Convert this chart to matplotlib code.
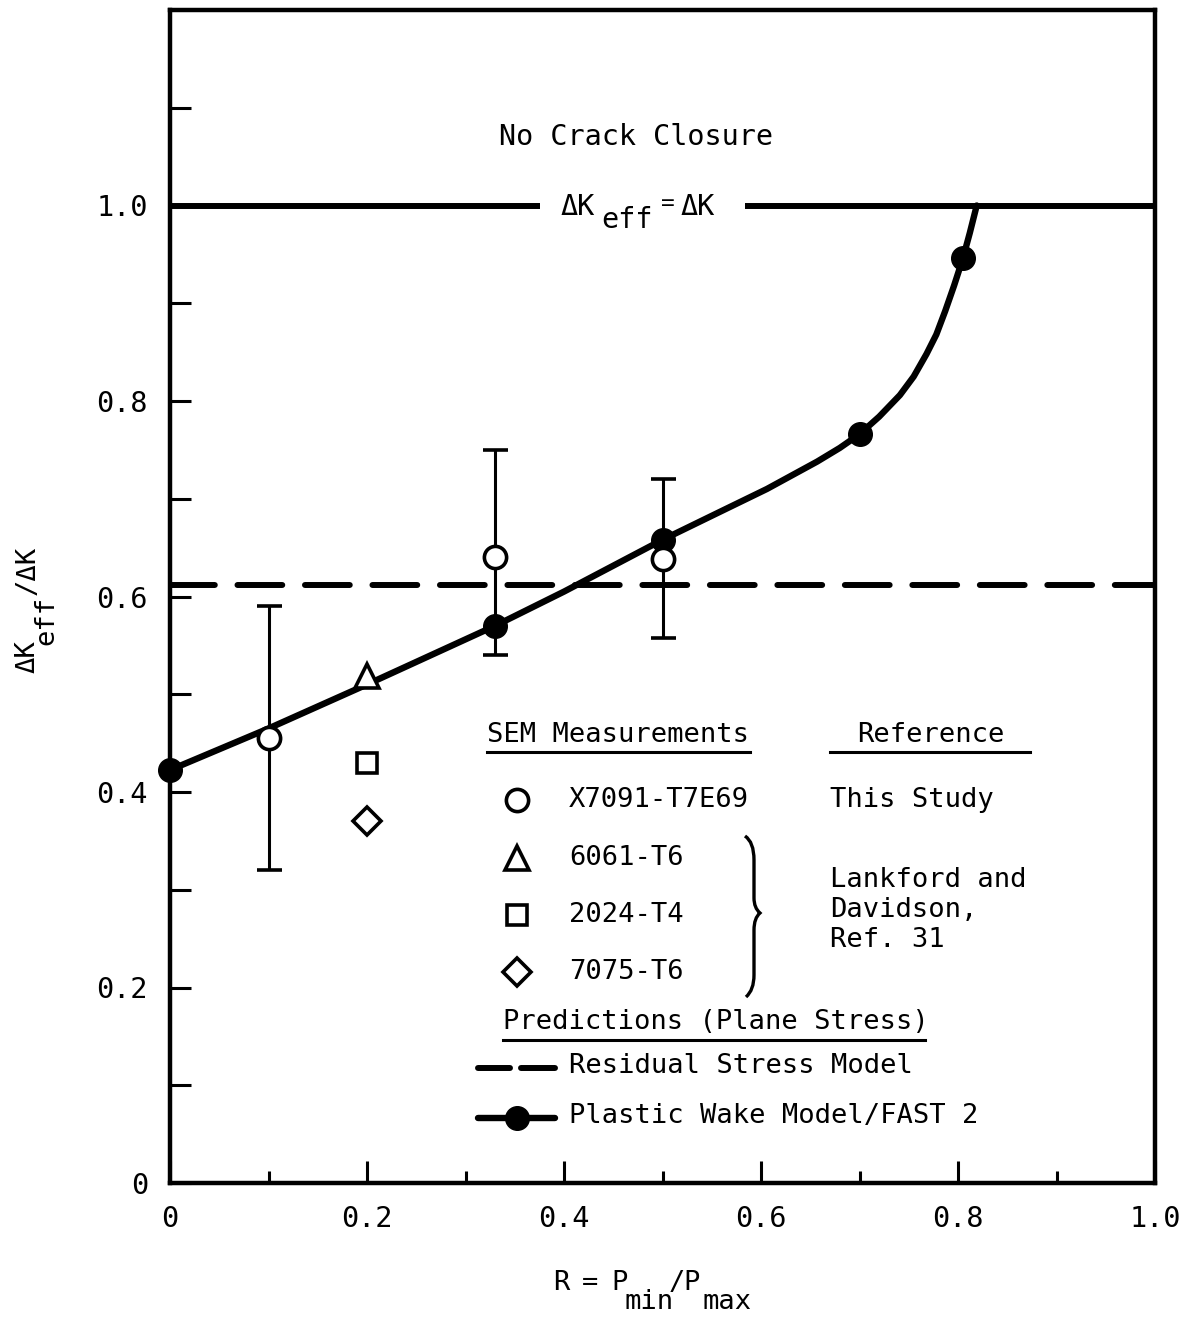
import matplotlib
matplotlib.use("Agg")
import matplotlib.pyplot as plt
from matplotlib.path import Path
from matplotlib.patches import PathPatch
from matplotlib.lines import Line2D

# ---------------- data ----------------
# This study, X7091-T7E69 (SEM measurements, with scatter bands)
x7091_R = [0.10, 0.33, 0.50]
x7091_ratio = [0.455, 0.640, 0.638]
x7091_lo = [0.320, 0.540, 0.558]
x7091_hi = [0.590, 0.750, 0.720]

# Lankford and Davidson, Ref. 31
lank_R = [0.20]
a6061_ratio = [0.519]
a2024_ratio = [0.430]
a7075_ratio = [0.370]

# Plastic Wake Model / FAST 2 (computed points)
fast_R = [0.0, 0.33, 0.50, 0.70, 0.805]
fast_ratio = [0.4225, 0.570, 0.658, 0.766, 0.946]

# Faired curve through the FAST 2 predictions
curve_R = [0.0, 0.10, 0.20, 0.33, 0.40, 0.50, 0.555, 0.606, 0.657, 0.68,
           0.70, 0.72, 0.741, 0.755, 0.768, 0.778, 0.787, 0.796, 0.805,
           0.812, 0.819]
curve_ratio = [0.4225, 0.465, 0.510, 0.570, 0.605, 0.658, 0.685, 0.710,
               0.738, 0.752, 0.766, 0.784, 0.806, 0.825, 0.848, 0.868,
               0.892, 0.918, 0.946, 0.972, 1.0]

# Residual stress model (plane stress)
residual_ratio = 0.612
# No crack closure line
no_closure = 1.0
no_closure_gap = (0.376, 0.584)

x_ticks = [0.0, 0.2, 0.4, 0.6, 0.8, 1.0]
x_ticklabels = ["0", "0.2", "0.4", "0.6", "0.8", "1.0"]
x_minor = [0.1, 0.3, 0.5, 0.7, 0.9]
y_ticks = [0.0, 0.2, 0.4, 0.6, 0.8, 1.0]
y_ticklabels = ["0", "0.2", "0.4", "0.6", "0.8", "1.0"]
y_minor = [0.1, 0.3, 0.5, 0.7, 0.9, 1.1]

# ---------------- style ----------------
FONT = "DejaVu Sans Mono"
plt.rcParams["font.family"] = [FONT, "DejaVu Sans"]
FS = 19.5

W, H = 1186, 1317
fig = plt.figure(figsize=(W / 100, H / 100), dpi=100)
L, R_, B, T = 170, 1155, 1183, 10
ax = fig.add_axes([L / W, 1 - B / H, (R_ - L) / W, (B - T) / H])
ax.set_xlim(0, 1.0)
ax.set_ylim(0, 1.2)


def A(px, py):
    """pixel position -> axes fraction"""
    return ((px - L) / (R_ - L), (B - py) / (B - T))


def F(px, py):
    """pixel position -> figure fraction"""
    return (px / W, 1 - py / H)


for s in ax.spines.values():
    s.set_linewidth(3.2)

ax.set_xticks(x_ticks)
ax.set_xticklabels(x_ticklabels)
ax.set_xticks(x_minor, minor=True)
ax.set_yticks(y_ticks)
ax.set_yticklabels(y_ticklabels)
ax.set_yticks(y_minor, minor=True)
ax.tick_params(axis="x", which="major", direction="in", length=16, width=2.2,
               pad=16, labelsize=FS + 1)
ax.tick_params(axis="x", which="minor", direction="in", length=9, width=2.2)
ax.tick_params(axis="y", which="both", direction="in", length=15, width=2.2,
               pad=16, labelsize=FS + 1)

# No crack closure line (with gap for label)
ax.plot([0.0, no_closure_gap[0]], [no_closure, no_closure], color="black",
        lw=4.3, solid_capstyle="butt")
ax.plot([no_closure_gap[1], 1.0], [no_closure, no_closure], color="black",
        lw=4.3, solid_capstyle="butt")

# residual stress model
ax.axhline(residual_ratio, color="black", lw=4.3, dashes=(7.5, 3.8),
           dash_capstyle="round")

# error bars
lower = [y - lo for y, lo in zip(x7091_ratio, x7091_lo)]
upper = [hi - y for y, hi in zip(x7091_ratio, x7091_hi)]
ax.errorbar(x7091_R, x7091_ratio, yerr=[lower, upper], fmt="none",
            ecolor="black", elinewidth=2.2, capsize=9, capthick=2.6, zorder=3)

# FAST 2 curve + points
ax.plot(curve_R, curve_ratio, color="black", lw=4.6, zorder=4,
        solid_capstyle="round", solid_joinstyle="round")
ax.plot(fast_R, fast_ratio, "o", color="black", ms=17, zorder=5,
        clip_on=False)

# measurements
ax.plot(x7091_R, x7091_ratio, "o", mfc="white", mec="black", mew=2.6,
        ms=16, zorder=6)
ax.plot(lank_R, a6061_ratio, "^", mfc="white", mec="black", mew=2.6,
        ms=17, zorder=6)
ax.plot(lank_R, a2024_ratio, "s", mfc="white", mec="black", mew=2.6,
        ms=14, zorder=6)
ax.plot(lank_R, a7075_ratio, "D", mfc="white", mec="black", mew=2.6,
        ms=14, zorder=6)

# ---------------- annotations ----------------
tr = ax.transAxes


def txt(px, py, s, size=FS, **kw):
    ax.text(*A(px, py), s, transform=tr, fontsize=size, va="center",
            ha=kw.pop("ha", "left"), **kw)


txt(636, 137, "No Crack Closure", ha="center", size=FS + 1)
txt(560, 207, "\u0394K", size=FS + 1)
txt(601, 220, "eff", size=FS + 1)
txt(661, 204, "=", size=FS - 3)
txt(680, 207, "\u0394K", size=FS + 1)

# ---------------- legend (hand-built) ----------------


def hline(px0, px1, py, lw=2.2, **kw):
    (x0, y0), (x1, y1) = A(px0, py), A(px1, py)
    ax.add_line(Line2D([x0, x1], [y0, y1], transform=tr, color="black",
                       lw=lw, **kw))


txt(487, 735, "SEM Measurements")
hline(487, 750, 752)
txt(857, 735, "Reference")
hline(830, 1030, 752)

items = [("o", 16, 800, "X7091-T7E69"), ("^", 17, 858, "6061-T6"),
         ("s", 14, 915, "2024-T4"), ("D", 14, 972, "7075-T6")]
for mk, ms, py, label in items:
    ax.plot(*A(517, py), mk, transform=tr, mfc="white", mec="black",
            mew=2.6, ms=ms, clip_on=False)
    txt(569, py, label)

txt(830, 800, "This Study")
ax.text(*A(830, 910), "Lankford and\nDavidson,\nRef. 31", transform=tr,
        fontsize=FS, ha="left", va="center", linespacing=1.2)

# brace
pts = [A(745, 836), A(754, 842), A(754, 860), A(754, 880), A(754, 898),
       A(754, 908), A(760, 913), A(754, 918), A(754, 930), A(754, 950),
       A(754, 975), A(754, 990), A(746, 997)]
codes = [Path.MOVETO, Path.CURVE3, Path.CURVE3, Path.LINETO, Path.LINETO,
         Path.CURVE3, Path.CURVE3, Path.CURVE3, Path.CURVE3, Path.LINETO,
         Path.LINETO, Path.CURVE3, Path.CURVE3]
ax.add_patch(PathPatch(Path(pts, codes), transform=tr, fill=False,
                       lw=2.4, ec="black", clip_on=False))

txt(503, 1022, "Predictions (Plane Stress)")
hline(503, 925, 1040)

# residual stress sample
hline(478, 510, 1068, lw=4.3, solid_capstyle="round")
hline(521, 555, 1068, lw=4.3, solid_capstyle="round")
txt(569, 1066, "Residual Stress Model")

# plastic wake sample
hline(478, 555, 1118, lw=4.6, solid_capstyle="round")
ax.plot(*A(517, 1118), "o", transform=tr, color="black", ms=17,
        clip_on=False)
txt(569, 1116, "Plastic Wake Model/FAST 2")


# axis labels (typewriter style with dropped subscripts)
def ftxt(px, py, s, rot=0, ha="left"):
    fig.text(*F(px, py), s, fontsize=FS, ha=ha, va="center", rotation=rot)


ftxt(553, 1283, "R")
ftxt(590, 1283, "=", ha="center")
ftxt(611, 1283, "P")
ftxt(625, 1302, "min")
ftxt(669, 1283, "/")
ftxt(683, 1283, "P")
ftxt(702, 1302, "max")

fig.text(*F(28, 657), "\u0394K", fontsize=FS, ha="center", va="center",
         rotation=90)
fig.text(*F(46, 620), "eff", fontsize=FS, ha="center", va="center",
         rotation=90)
fig.text(*F(28, 570), "/\u0394K", fontsize=FS, ha="center", va="center",
         rotation=90)

fig.savefig("out.png", dpi=100)
